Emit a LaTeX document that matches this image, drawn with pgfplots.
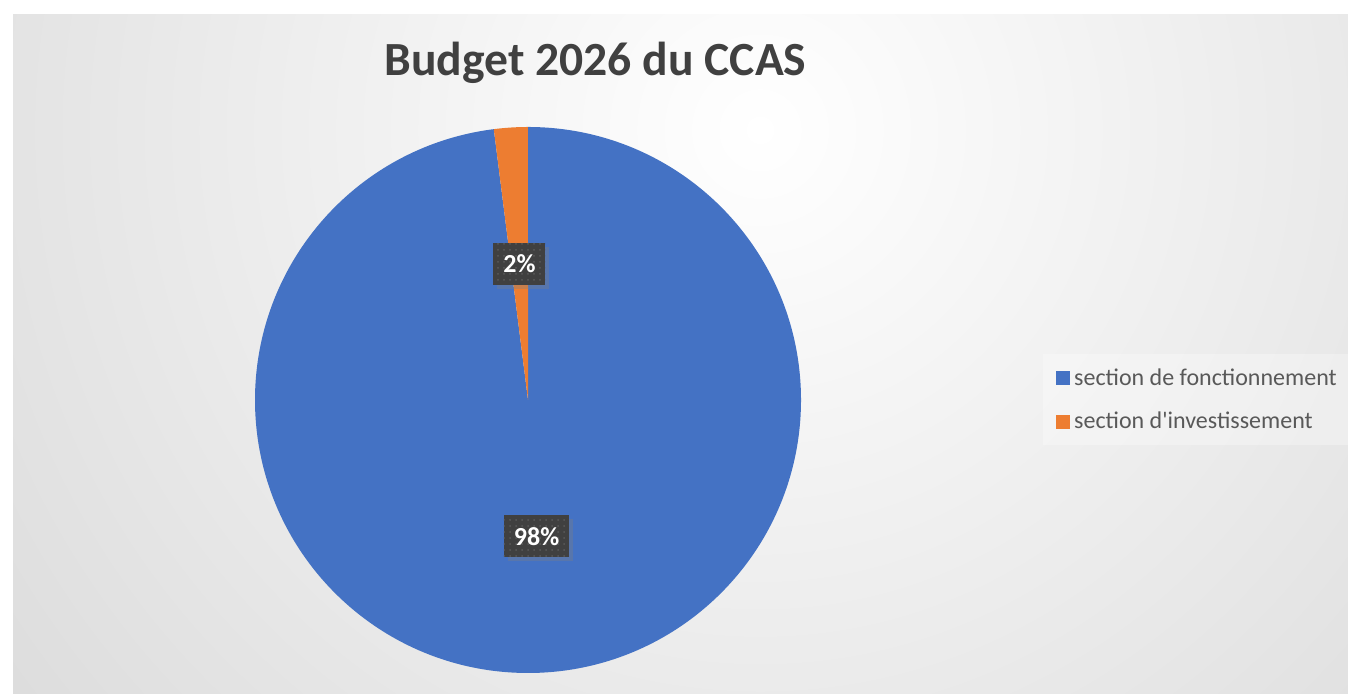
\documentclass[border=0pt]{standalone}
\usepackage{fontspec}
\setmainfont{Carlito}
\usepackage{pgfplots}
\usepackage{pgfplotstable}
\pgfplotsset{compat=1.18}
\usetikzlibrary{patterns,shadows,calc}
\definecolor{fonct}{HTML}{4472C4}
\definecolor{invest}{HTML}{ED7D31}
\definecolor{ink}{HTML}{404040}
\definecolor{legtxt}{HTML}{595959}
\definecolor{bgout}{HTML}{C6C6C6}
\definecolor{labbg}{HTML}{404040}
\definecolor{labdot}{HTML}{5A5A5A}
\tikzset{lab/.style={fill=labbg, pattern=dots, pattern color=labdot,
    preaction={fill=labbg, drop shadow={opacity=0.35, shadow xshift=2pt, shadow yshift=-2pt}},
    text=white, font=\bfseries\fontsize{13}{15}\selectfont,
    inner xsep=5pt, minimum height=21pt}}

% parts of the budget, in percent
\pgfplotstableread{
part value
fonct 98
invest 2
}\budget

\begin{document}
\begin{tikzpicture}
\pgfplotstablegetelem{0}{value}\of\budget \let\va\pgfplotsretval
\pgfplotstablegetelem{1}{value}\of\budget \let\vb\pgfplotsretval
\pgfmathsetmacro\tot{\va+\vb}
\pgfmathsetmacro\fA{\va/\tot}
\pgfmathsetmacro\fB{\vb/\tot}
\pgfmathsetmacro\aA{90-360*\fA}
\pgfmathsetmacro\aB{\aA-360*\fB}
\pgfmathsetmacro\mA{(90+\aA)/2}
\pgfmathsetmacro\mB{(\aA+\aB)/2}
\pgfmathtruncatemacro\pA{round(100*\fA)}
\pgfmathtruncatemacro\pB{round(100*\fB)}
\begin{axis}[
  width=674pt, height=347pt, scale only axis,
  xmin=0, xmax=1348, ymin=0, ymax=694,
  hide axis, clip=false,
  legend style={at={(axis cs:1050,334)}, anchor=north west, draw=none, fill=none,
    font=\fontsize{12}{14}\selectfont, text=legtxt, row sep=8pt},
  legend cell align=left,
  legend image code/.code={\fill[#1] (0pt,-3.25pt) rectangle (6.5pt,3.25pt);},
]
% background
\fill[bgout, draw=gray!55] (axis cs:13,0) rectangle (axis cs:1348,679);
\begin{scope}
\clip (axis cs:13,0) rectangle (axis cs:1348,679);
\shade[inner color=white, outer color=bgout] (axis cs:760,564) circle (780pt);
\end{scope}
% title
\node[font=\bfseries\fontsize{23.8}{27}\selectfont, text=ink] at (axis cs:595.5,631) {Budget 2026 du CCAS};
% pie
\fill[fonct] (axis cs:528,294) -- ++(90:136.5pt) arc[start angle=90, end angle=\aA, radius=136.5pt] -- cycle;
\fill[invest] (axis cs:528,294) -- ++(\aA:136.5pt) arc[start angle=\aA, end angle=\aB, radius=136.5pt] -- cycle;
\node[lab] at ($(axis cs:528,294)+(\mB:68.25pt)$) {\pB\%};
\node[lab] at ($(axis cs:528,294)+(\mA:68.25pt)$) {\pA\%};
% legend box
\fill[white, fill opacity=0.3] (axis cs:1043,340) rectangle (axis cs:1348,249);
\addlegendimage{fonct}
\addlegendentry{section de fonctionnement}
\addlegendimage{invest}
\addlegendentry{section d\textquotesingle investissement}
\end{axis}
\pgfresetboundingbox
\useasboundingbox (0,0) rectangle (674pt,347pt);
\end{tikzpicture}
\end{document}
